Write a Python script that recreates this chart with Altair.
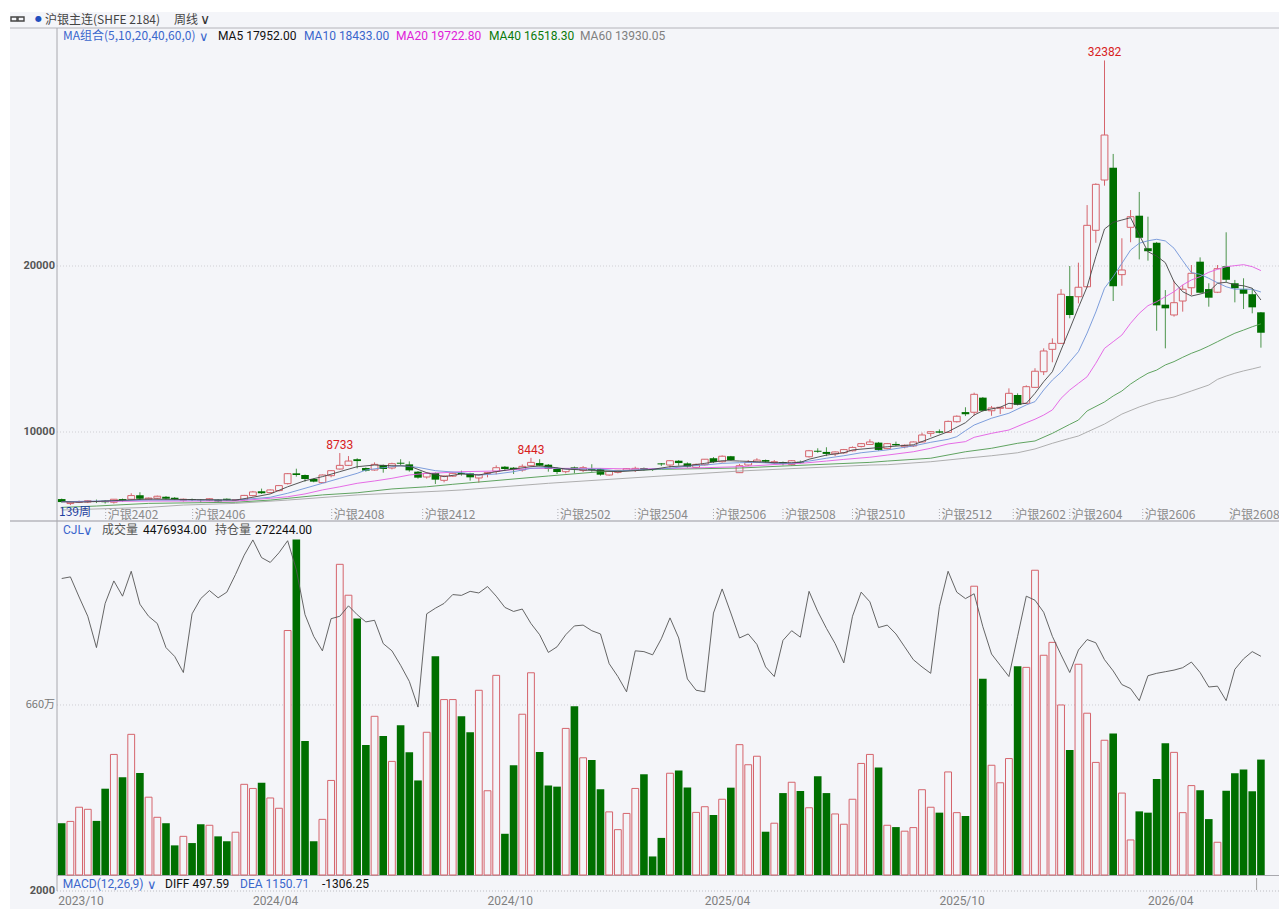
import altair as alt
import pandas as pd

# ---- candles (one entry per week) ----
updown = list("GRRRGGRGRG" "RRGGRGGRGG" "RRRGRRRGGG" "RRRRGGRGRG" "GGRGRRGGRR" "RGGRRGGGRG" "RGGRRRRGGG"
              "RGGRRGRGRR" "RGRGRGRGGR" "RRRRGRGRRR" "RGRRGRGRRR" "GRRRRRGRRR" "RGRRGGGGRR" "RGGRGGGGG")
body_top = [5960,5780,5810,5860,5820,5860,5950,5960,6170,6190,
            6020,6130,6100,6040,5950,5960,5920,5980,5920,5980,
            5920,6180,6390,6430,6510,6770,7490,7510,7410,7170,
            7410,7670,7990,8250,8360,7830,8050,8010,8090,8150,
            8050,7610,7510,7530,7350,7510,7530,7510,7430,7550,
            7850,7910,7850,7930,8170,8130,8030,7770,7790,7870,
            7850,7770,7770,7630,7690,7790,7810,7830,7770,8110,
            8270,8270,8110,8050,8360,8420,8540,8540,7970,8170,
            8310,8310,8210,8190,8270,8210,8870,8870,8800,8800,
            8940,9070,9300,9400,9360,9300,9280,9200,9400,9820,
            10020,10040,10640,10950,11200,12270,12070,11450,11490,12330,
            12230,12730,13660,14880,15340,18300,18190,18720,22450,24920,
            27890,25920,19760,22970,23030,21070,21400,17670,17790,18600,
            19560,20260,18610,19840,19980,18960,18600,18300,17210]
body_bot = [5780,5690,5770,5780,5780,5770,5770,5860,5950,5980,
            5960,6010,5980,5950,5890,5900,5890,5900,5820,5900,
            5890,5920,6170,6310,6350,6470,6890,7410,7170,7010,
            6950,7370,7770,7990,8250,7670,7710,7770,7830,8090,
            7690,7250,7290,7130,7090,7340,7470,7270,7230,7510,
            7630,7770,7710,7710,7970,7970,7770,7590,7610,7750,
            7690,7710,7430,7410,7570,7690,7710,7730,7710,8050,
            8010,8130,7910,7870,8030,8190,8210,8310,7550,8010,
            8170,8210,8150,8110,8050,8150,8510,8810,8680,8680,
            8750,8870,9130,9250,8920,9000,9200,9110,9160,9400,
            9920,9960,9980,10620,11070,11190,11280,11280,11430,11430,
            11640,11730,12690,13630,14980,15340,17050,18150,18750,22150,
            25180,18780,19480,22330,21700,20890,17630,17450,17050,17890,
            18690,18390,18090,18420,19170,18660,18330,17510,15980]
high = [5990,5840,5870,5900,5930,5900,5960,5990,6310,6370,
        6050,6170,6140,6080,5990,5990,5960,6020,5960,6000,
        5960,6210,6450,6590,6540,6810,7530,7790,7440,7200,
        7440,7710,8733,8550,8420,7860,8170,8040,8150,8360,
        8230,7650,7560,7560,7380,7550,7670,7540,7470,7590,
        7990,7950,7890,8050,8443,8360,8070,7870,7830,7920,
        7950,8060,7800,7670,7710,7830,7910,7860,7800,8130,
        8310,8310,8170,8100,8370,8490,8590,8560,8070,8310,
        8420,8340,8310,8220,8310,8280,8920,9020,9080,8830,
        8980,9130,9340,9560,9400,9340,9420,9250,9430,9960,
        10060,10160,10690,11000,11490,12370,12110,11570,11510,12630,
        12330,12810,13840,15040,15640,18610,20000,20200,23670,24980,
        32382,26750,21670,23370,24460,22970,21450,18550,19110,18860,
        20060,20520,18960,20060,22030,19160,19260,18660,17230]
low = [5750,5600,5720,5720,5720,5690,5690,5810,5930,5900,
       5900,5960,5930,5900,5810,5840,5770,5840,5780,5860,
       5840,5870,6120,6270,6300,6420,6840,7310,7010,6970,
       6930,7270,7740,7950,7810,7610,7670,7550,7750,8010,
       7610,7190,7190,6870,6970,7290,7370,7070,6950,7270,
       7450,7650,7470,7610,7930,7930,7610,7470,7510,7510,
       7590,7610,7370,7370,7510,7650,7590,7670,7650,7950,
       7850,7970,7850,7810,7980,8130,8160,8270,7530,7950,
       8130,8160,8050,7990,7980,8100,8460,8750,8550,8550,
       8690,8830,9070,9220,8870,8950,9160,9020,9100,9370,
       9720,9920,9940,10570,10960,10980,11230,10980,11080,11390,
       11600,11690,12650,13430,14200,15300,16850,17750,18700,21400,
       24840,17890,18810,21430,20400,20320,16100,15040,16950,17250,
       18250,18360,17550,18370,19020,17810,17410,17150,15080]

# ---- volume (10k lots) and open interest (10k lots) ----
volume = [201,208,263,255,210,335,468,379,546,396,
          302,224,201,115,150,124,197,193,150,131,
          166,352,336,358,299,259,949,1302,520,131,
          216,367,1206,1086,996,505,616,540,441,581,
          476,367,554,849,681,681,616,554,717,327,
          775,160,426,624,785,477,347,343,569,655,
          455,446,333,245,176,239,336,391,72,144,
          395,406,340,243,265,233,294,339,506,428,
          461,168,201,318,360,326,261,383,318,237,
          197,294,433,468,417,193,186,170,184,331,
          263,242,400,242,229,1121,762,426,358,452,
          810,806,1183,853,903,660,485,818,628,437,
          523,549,318,136,247,242,373,511,476,242,
          347,329,217,127,327,395,410,325,448]
open_interest = [36.9,37.1,34.6,32.2,28.3,33.8,36.6,34.7,37.8,33.7,
                 32.2,31.3,28.3,27.2,25.2,32.5,34.4,35.4,34.5,35.2,
                 37.4,39.8,41.7,39.5,38.9,40.1,41.6,38.0,32.4,29.7,
                 27.9,31.9,32.2,33.5,32.4,31.5,31.7,28.8,27.9,26.1,
                 24.1,20.9,32.5,33.2,33.8,34.9,34.8,35.3,35.1,35.9,
                 34.7,33.3,32.8,33.1,31.3,29.9,27.7,28.4,29.9,31.0,
                 31.1,30.4,30.0,26.3,24.7,22.8,27.9,27.8,27.4,29.4,
                 32.0,29.5,24.4,23.0,22.8,32.6,35.6,32.6,29.5,30.0,
                 28.7,25.9,24.7,29.2,30.4,29.6,35.3,32.8,30.7,28.8,
                 26.4,32.2,35.2,34.0,30.8,31.1,30.0,28.4,26.8,25.9,
                 25.1,33.4,37.8,35.2,34.4,35.0,30.9,27.5,26.1,24.7,
                 29.7,34.7,34.2,32.7,29.7,27.4,25.2,28.0,29.3,28.9,
                 26.8,25.4,23.7,23.2,21.7,24.8,25.1,25.3,25.5,25.8,
                 26.5,25.2,23.4,23.5,21.7,25.6,26.9,27.8,27.22]

# ---- moving averages, read at the weeks listed ----
ma5_w = [0,2,10,20,22,24,26,28,30,32,34,36,38,40,42,44,46,48,50,52,54,55,56,58,60,62,64,66,68,70,72,74,76,77,78,80,82,84,85,86,88,90,91,95,98,100,102,104,105,106,107,108,109,110,111,112,113,114,115,116,117,118,119,120,121,122,123,124,125,126,127,128,129,130,131,132,133,134,135,136,137,138]
ma5_v = [5800,5770,5960,5900,6070,6270,6700,7070,7310,7610,7910,8010,7970,7950,7550,7310,7470,7410,7610,7770,7910,7950,7910,7770,7710,7670,7610,7670,7750,7910,7970,8110,8270,8270,8250,8210,8150,8150,8170,8360,8610,8750,8920,9110,9230,9620,10020,10560,11020,11280,11390,11490,11730,11670,11730,12330,13030,13630,14940,16200,17500,18750,20560,22230,22630,22770,22910,21870,20860,20600,20200,19050,18450,18190,18310,18450,18960,19020,18860,18810,18660,17952]
ma10_w = [0,10,20,24,26,28,30,32,34,35,37,39,41,43,46,48,50,52,54,56,58,62,64,66,70,72,74,76,78,80,82,84,86,88,90,92,95,98,100,102,103,104,105,107,109,111,112,113,114,115,116,117,118,119,120,121,122,123,124,125,126,127,128,129,130,131,132,133,134,135,136,137,138]
ma10_v = [5800,5900,5900,6070,6310,6610,6910,7210,7510,7710,7850,7970,7870,7670,7550,7410,7470,7610,7810,7870,7770,7770,7650,7710,7810,7950,8010,8110,8150,8170,8110,8110,8250,8420,8570,8750,8920,9160,9380,9560,9720,10080,10420,10830,11130,11630,11830,12530,13130,13600,14230,14840,15960,17230,18660,19360,20160,20960,21370,21520,21610,21510,21070,20320,19600,19500,19260,18990,18750,18600,18610,18600,18433]
ma20_w = [0,10,20,24,26,28,30,32,34,36,38,40,42,44,46,50,54,58,62,66,70,74,78,82,85,88,90,93,95,98,100,102,104,105,107,109,111,112,113,114,115,116,117,118,119,120,121,122,123,124,125,126,127,128,129,130,131,132,133,134,135,136,137,138]
ma20_v = [5800,5840,5840,6010,6100,6270,6510,6700,6910,7050,7210,7410,7510,7550,7610,7650,7810,7810,7810,7770,7810,7850,7910,8040,8110,8250,8350,8480,8610,8810,9020,9280,9420,9680,9920,10120,10560,10770,11020,11330,12030,12530,12930,13330,14140,15040,15440,15840,16550,17150,17610,17850,18150,18450,18860,19160,19360,19620,19800,19960,20020,20080,19960,19723]
ma40_w = [0,4,10,20,24,30,34,38,42,45,56,62,69,78,83,93,95,100,104,107,110,112,114,116,117,118,120,121,122,123,124,125,126,127,128,129,130,131,132,133,134,135,136,137,138]
ma40_v = [5460,5540,5700,5770,5900,6210,6340,6570,6700,6850,7350,7610,7750,7830,7950,8170,8250,8420,8810,9020,9320,9460,9920,10460,10720,11270,11810,12170,12470,12890,13230,13540,13730,14040,14240,14500,14740,14940,15180,15440,15700,15950,16140,16340,16518]
ma60_w = [0,10,14,20,26,34,44,46,56,69,78,83,93,95,100,104,107,110,112,114,116,117,120,122,124,126,128,130,132,133,134,135,136,137,138]
ma60_v = [5300,5460,5600,5700,5900,6210,6450,6510,6910,7350,7650,7770,8010,8030,8210,8420,8570,8750,8980,9320,9620,9760,10480,11080,11510,11870,12110,12470,12830,13170,13370,13540,13680,13800,13930]

peaks = [(32, 8733, "8733"), (54, 8443, "8443"), (120, 32382, "32382")]
contract_labels = ["沪银2402","沪银2406","沪银2408","沪银2412","沪银2502","沪银2504","沪银2506","沪银2508","沪银2510","沪银2512","沪银2602","沪银2604","沪银2606","沪银2608"]
contract_week = [5.06,15.07,31.07,41.54,57.1,66,75,83,91,101,109.5,116,124.4,135]
contract_label_week = [5.06,15.07,31.07,41.54,57.1,66,75,83,91,101,109.5,116,124.4,134.1]
date_labels = ["2023/10","2024/04","2024/10","2025/04","2025/10","2026/04"]
date_week = [-0.4,22.0,49.0,74.0,101.0,125.0]

BG = "#f4f5f9"
RED = "#d5646c"
GREEN = "#006f00"
GREEN_WICK = "#4c944c"
BLUE = "#3a66cc"
SANS = "Roboto"
CJK = "Noto Sans CJK SC"

W, H = 1269, 897
XS = alt.Scale(domain=[-5.95, 140.08], nice=False, zero=False, padding=0)
PRICE = alt.Scale(domain=[-18734, 35301], nice=False, zero=False)
VOL = alt.Scale(domain=[-132, 3350], nice=False, zero=False)
OI = alt.Scale(domain=[-4.23, 107.4], nice=False, zero=False)

df = pd.DataFrame({"w": range(len(volume)), "ud": updown, "top": body_top, "bot": body_bot,
                   "hi": high, "lo": low, "vol": volume, "oi": open_interest})
x = alt.X("w:Q", scale=XS, axis=None)


def py(f, s=PRICE):
    return alt.Y(f, scale=s, axis=None)


def label(text, px, py_, color, size=12, align="left", weight="normal", font=SANS):
    return (alt.Chart(pd.DataFrame({"t": [text]}))
            .mark_text(color=color, fontSize=size, align=align, baseline="middle", fontWeight=weight, font=font)
            .encode(x=alt.value(px - 10), y=alt.value(py_ - 12), text="t:N"))


def hline(ypx, x0, color, width=1, dash=None):
    kw = {"color": color, "strokeWidth": width}
    if dash:
        kw["strokeDash"] = dash
    return alt.Chart(pd.DataFrame({"a": [0]})).mark_rule(**kw).encode(
        x=alt.value(x0 - 10), x2=alt.value(W), y=alt.value(ypx - 12))


layers = []

# grid
for yv in [10000, 20000]:
    layers.append(alt.Chart(pd.DataFrame({"v": [yv]})).mark_rule(color="#cfcfd4", strokeDash=[1, 2], strokeWidth=1)
                  .encode(y=py("v:Q"), x=alt.value(47), x2=alt.value(W)))
layers.append(alt.Chart(pd.DataFrame({"v": [660]})).mark_rule(color="#cfcfd4", strokeDash=[1, 2], strokeWidth=1)
              .encode(y=py("v:Q", VOL), x=alt.value(47), x2=alt.value(W)))
layers.append(hline(891, 57, "#bdbdc2", 1, [1, 2]))
layers.append(hline(28, 10, "#b4b4ba"))
layers.append(hline(521, 10, "#c6c6cc", 2))
layers.append(hline(875.5, 57, "#a8a8ae"))
layers.append(alt.Chart(pd.DataFrame({"a": [0]})).mark_rule(color="#a8a8ae", strokeWidth=1)
              .encode(x=alt.value(47), y=alt.value(16), y2=alt.value(879)))

# contract tick marks and labels
cdf = pd.DataFrame({"w": contract_week, "t": contract_labels})
ldf = pd.DataFrame({"w": contract_label_week, "t": contract_labels})
layers.append(alt.Chart(cdf).mark_rule(color="#a8a8ae", strokeDash=[1, 2], strokeWidth=1)
              .encode(x=x, y=alt.value(497), y2=alt.value(509)))
layers.append(alt.Chart(ldf).mark_text(color="#8a8a8a", fontSize=12, align="left", baseline="middle", dx=2, font=CJK)
              .encode(x=x, y=alt.value(502.5), text="t:N"))
ddf = pd.DataFrame({"w": date_week, "t": date_labels})
layers.append(alt.Chart(ddf).mark_text(color="#7f7f7f", fontSize=12, align="left", baseline="middle", font=SANS)
              .encode(x=x, y=alt.value(888.5), text="t:N"))
layers.append(alt.Chart(pd.DataFrame({"w": [137.5]})).mark_rule(color="#a0a0a0", strokeWidth=1)
              .encode(x=x, y=alt.value(866), y2=alt.value(878)))

# volume bars
red = alt.Chart(df).transform_filter("datum.ud == 'R'")
grn = alt.Chart(df).transform_filter("datum.ud == 'G'")
layers.append(red.mark_bar(size=6.8, fill=BG, stroke=RED, strokeWidth=1).encode(
    x=x, y=py("vol:Q", VOL), y2=alt.datum(0)))
layers.append(grn.mark_bar(size=7.6, fill=GREEN).encode(
    x=x, y=py("vol:Q", VOL), y2=alt.datum(0)))
layers.append(alt.Chart(df).mark_line(color="#555555", strokeWidth=0.9).encode(x=x, y=py("oi:Q", OI)))

# candles
layers.append(red.mark_rule(color=RED, strokeWidth=1).encode(x=x, y=py("hi:Q"), y2="lo:Q"))
layers.append(grn.mark_rule(color=GREEN_WICK, strokeWidth=1).encode(x=x, y=py("hi:Q"), y2="lo:Q"))
layers.append(red.mark_bar(size=6.8, fill=BG, stroke=RED, strokeWidth=1).encode(x=x, y=py("top:Q"), y2="bot:Q"))
layers.append(grn.mark_bar(size=7.6, fill=GREEN).encode(x=x, y=py("top:Q"), y2="bot:Q"))

# moving averages
for wk, val, col in [(ma60_w, ma60_v, "#a6a6a6"), (ma40_w, ma40_v, "#4f9a4f"), (ma20_w, ma20_v, "#e35ce3"),
                     (ma10_w, ma10_v, "#6f93d8"), (ma5_w, ma5_v, "#444444")]:
    layers.append(alt.Chart(pd.DataFrame({"w": wk, "v": val})).mark_line(color=col, strokeWidth=0.9)
                  .encode(x=x, y=py("v:Q")))

# peak labels
pdf = pd.DataFrame(peaks, columns=["w", "v", "t"])
layers.append(alt.Chart(pdf).mark_text(color="#d81e1e", fontSize=12, baseline="bottom", dy=-1, font=SANS)
              .encode(x=x, y=py("v:Q"), text="t:N"))

# left axis labels
layers += [
    label("20000", 55, 266, "#555555", 11, "right", "bold"),
    label("10000", 55, 432, "#555555", 11, "right", "bold"),
    label("660万", 55, 705, "#777777", 11, "right", "normal", CJK),
    label("2000", 55, 891, "#555555", 11, "right", "bold"),
    label("139周", 59, 512, "#1f3f9f", 12, "left", "normal", CJK),
]

# link icon
for a in [(11, 17), (18, 24)]:
    layers.append(alt.Chart(pd.DataFrame({"a": [0]})).mark_rect(fill="transparent", stroke="#444444", strokeWidth=1.4)
                  .encode(x=alt.value(a[0] - 10), x2=alt.value(a[1] - 10), y=alt.value(5), y2=alt.value(9)))

# header texts
layers += [
    label("●", 35, 19, "#1f4fbf", 8, font="DejaVu Sans"),
    label("沪银主连(SHFE 2184)", 45, 19.5, "#444444", 12, font=CJK),
    label("周线", 174, 19.5, "#444444", 12, font=CJK),
    label("∨", 200, 19.5, "#333333", 14, font="DejaVu Sans"),
    label("MA组合(5,10,20,40,60,0)", 63, 36, BLUE, 12, font=CJK),
    label("∨", 199, 37, BLUE, 13, font="DejaVu Sans"),
    label("MA5 17952.00", 218, 36, "#111111"),
    label("MA10 18433.00", 304, 36, BLUE),
    label("MA20 19722.80", 396, 36, "#e020d8"),
    label("MA40 16518.30", 489, 36, "#0a7a0a"),
    label("MA60 13930.05", 580, 36, "#808080"),
    label("CJL", 63, 530, BLUE),
    label("∨", 83, 531, BLUE, 13, font="DejaVu Sans"),
    label("成交量", 102, 530, "#555555", 12, font=CJK),
    label("4476934.00", 143, 530, "#111111"),
    label("持仓量", 215, 530, "#555555", 12, font=CJK),
    label("272244.00", 255, 530, "#111111"),
    label("MACD(12,26,9)", 62.7, 884, BLUE),
    label("∨", 147, 885, BLUE, 13, font="DejaVu Sans"),
    label("DIFF 497.59", 165, 884, "#111111"),
    label("DEA 1150.71", 240, 884, BLUE),
    label("-1306.25", 322, 884, "#111111"),
]

chart = (alt.layer(*layers)
         .resolve_scale(y="independent")
         .properties(width=W, height=H, background="white",
                     padding={"left": 2, "top": 4, "right": 0, "bottom": 0},
                     autosize=alt.AutoSizeParams(type="none"))
         .configure_view(fill=BG, stroke=None))

chart.save("out.html", embed_options={"renderer": "svg", "actions": False})
